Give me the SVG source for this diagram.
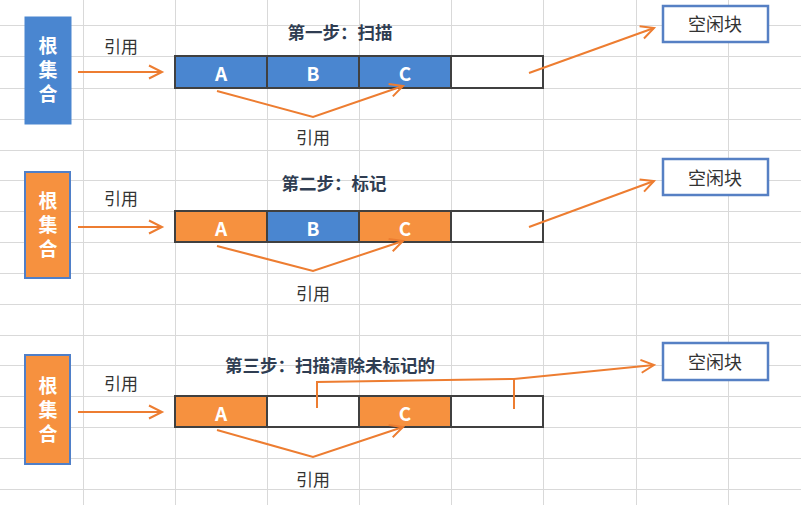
<svg xmlns="http://www.w3.org/2000/svg" width="801" height="505" viewBox="0 0 801 505">
<style>
.grid line{stroke:#D9D9D9;stroke-width:1}
.root{stroke:#4F7FC8;stroke-width:2}
.blue{fill:#4A86D0}
.orange{fill:#F6913F}
.empty{fill:#FFFFFF}
.cell{stroke:#404040;stroke-width:2}
.free{fill:#FFFFFF;stroke:#5680C4;stroke-width:2.5}
.rt{font-family:"Noto Sans CJK SC","Noto Sans",sans-serif;font-size:19px;font-weight:bold;fill:#FFFFFF;text-anchor:middle;writing-mode:vertical-rl;letter-spacing:5px}
.ct{font-family:"Noto Sans CJK SC","Noto Sans",sans-serif;font-size:19px;font-weight:bold;fill:#FFFFFF;text-anchor:middle;dominant-baseline:central}
.lbl{font-family:"Noto Sans CJK SC",sans-serif;font-size:17px;fill:#333333;text-anchor:middle;dominant-baseline:central}
.ttl{font-family:"Noto Sans CJK SC",sans-serif;font-size:17.5px;font-weight:bold;fill:#2F3D52;text-anchor:middle;dominant-baseline:central}
.ft{font-family:"Noto Sans CJK SC",sans-serif;font-size:18px;fill:#333333;text-anchor:middle;dominant-baseline:central}
.conn path,.conn line,.conn polyline{fill:none;stroke:#ED7D31;stroke-width:2}
</style>
<defs>
<marker id="arr" markerUnits="userSpaceOnUse" markerWidth="20" markerHeight="20" viewBox="-16 -10 20 20" refX="0" refY="0" orient="auto">
<path d="M-13,-6.5 L0,0 L-13,6.5" fill="none" stroke="#ED7D31" stroke-width="2"/>
</marker>
</defs>
<rect width="801" height="505" fill="#FFFFFF"/>
<g class="grid" id="grid">
<line x1="0" y1="25.5" x2="801" y2="25.5"/>
<line x1="0" y1="56.5" x2="801" y2="56.5"/>
<line x1="0" y1="88.5" x2="801" y2="88.5"/>
<line x1="0" y1="119.5" x2="801" y2="119.5"/>
<line x1="0" y1="150.5" x2="801" y2="150.5"/>
<line x1="0" y1="180.5" x2="801" y2="180.5"/>
<line x1="0" y1="211.5" x2="801" y2="211.5"/>
<line x1="0" y1="242.5" x2="801" y2="242.5"/>
<line x1="0" y1="273.5" x2="801" y2="273.5"/>
<line x1="0" y1="304.5" x2="801" y2="304.5"/>
<line x1="0" y1="335.5" x2="801" y2="335.5"/>
<line x1="0" y1="365.5" x2="801" y2="365.5"/>
<line x1="0" y1="396.5" x2="801" y2="396.5"/>
<line x1="0" y1="427.5" x2="801" y2="427.5"/>
<line x1="0" y1="458.5" x2="801" y2="458.5"/>
<line x1="0" y1="489.5" x2="801" y2="489.5"/>
<line x1="83.5" y1="0" x2="83.5" y2="505"/>
<line x1="175.5" y1="0" x2="175.5" y2="505"/>
<line x1="267.5" y1="0" x2="267.5" y2="505"/>
<line x1="359.5" y1="0" x2="359.5" y2="505"/>
<line x1="451.5" y1="0" x2="451.5" y2="505"/>
<line x1="543.5" y1="0" x2="543.5" y2="505"/>
<line x1="636.5" y1="0" x2="636.5" y2="505"/>
<line x1="728.5" y1="0" x2="728.5" y2="505"/>
</g>

<!-- Step 1 -->
<g id="root1">
<rect class="blue" x="25" y="17" width="46" height="107" stroke="#4A86D0" stroke-width="1"/>
<text class="rt" x="48" y="72.5">根集合</text>
</g>
<text class="lbl" x="121" y="45">引用</text>
<text class="ttl" x="340" y="31">第一步：扫描</text>
<g id="cells1">
<rect class="blue cell" x="175" y="56" width="92" height="32"/>
<rect class="blue cell" x="267" y="56" width="92" height="32"/>
<rect class="blue cell" x="359" y="56" width="92" height="32"/>
<rect class="empty cell" x="451" y="56" width="92" height="32"/>
<text class="ct" x="221" y="72">A</text>
<text class="ct" x="313" y="72">B</text>
<text class="ct" x="405" y="72">C</text>
</g>
<text class="lbl" x="313" y="136">引用</text>
<g id="free1">
<rect class="free" x="663" y="6" width="105" height="36"/>
<text class="ft" x="715" y="23">空闲块</text>
</g>

<!-- Step 2 -->
<g id="root2">
<rect class="orange root" x="25" y="172" width="45" height="106"/>
<text class="rt" x="48" y="227.5">根集合</text>
</g>
<text class="lbl" x="121" y="197">引用</text>
<text class="ttl" x="334" y="182">第二步：标记</text>
<g id="cells2">
<rect class="orange cell" x="175" y="211" width="92" height="31"/>
<rect class="blue cell" x="267" y="211" width="92" height="31"/>
<rect class="orange cell" x="359" y="211" width="92" height="31"/>
<rect class="empty cell" x="451" y="211" width="92" height="31"/>
<text class="ct" x="221" y="227">A</text>
<text class="ct" x="313" y="227">B</text>
<text class="ct" x="405" y="227">C</text>
</g>
<text class="lbl" x="313" y="292">引用</text>
<g id="free2">
<rect class="free" x="663" y="159" width="105" height="36"/>
<text class="ft" x="715" y="177">空闲块</text>
</g>

<!-- Step 3 -->
<g id="root3">
<rect class="orange root" x="25" y="355" width="45" height="109"/>
<text class="rt" x="48" y="412">根集合</text>
</g>
<text class="lbl" x="121" y="382">引用</text>
<text class="ttl" x="330" y="364">第三步：扫描清除未标记的</text>
<g id="cells3">
<rect class="orange cell" x="175" y="396" width="92" height="31"/>
<rect class="empty cell" x="267" y="396" width="92" height="31"/>
<rect class="orange cell" x="359" y="396" width="92" height="31"/>
<rect class="empty cell" x="451" y="396" width="92" height="31"/>
<text class="ct" x="221" y="412">A</text>
<text class="ct" x="405" y="412">C</text>
</g>
<text class="lbl" x="313" y="478">引用</text>
<g id="free3">
<rect class="free" x="663" y="343" width="105" height="37"/>
<text class="ft" x="715" y="361">空闲块</text>
</g>

<g class="conn" id="connectors">
<line x1="78" y1="72" x2="162" y2="72" marker-end="url(#arr)"/>
<polyline points="217,91 313,117 403,86" marker-end="url(#arr)"/>
<line x1="529" y1="73" x2="654" y2="28" marker-end="url(#arr)"/>

<line x1="78" y1="227" x2="162" y2="227" marker-end="url(#arr)"/>
<polyline points="217,246 313,271 403,241" marker-end="url(#arr)"/>
<line x1="529" y1="227" x2="654" y2="181" marker-end="url(#arr)"/>

<line x1="78" y1="412" x2="162" y2="412" marker-end="url(#arr)"/>
<polyline points="217,430 313,457 403,427" marker-end="url(#arr)"/>
<polyline points="317,408 317,382 514,379 654,365" marker-end="url(#arr)"/>
<line x1="514" y1="409" x2="514" y2="379"/>
</g>
</svg>
